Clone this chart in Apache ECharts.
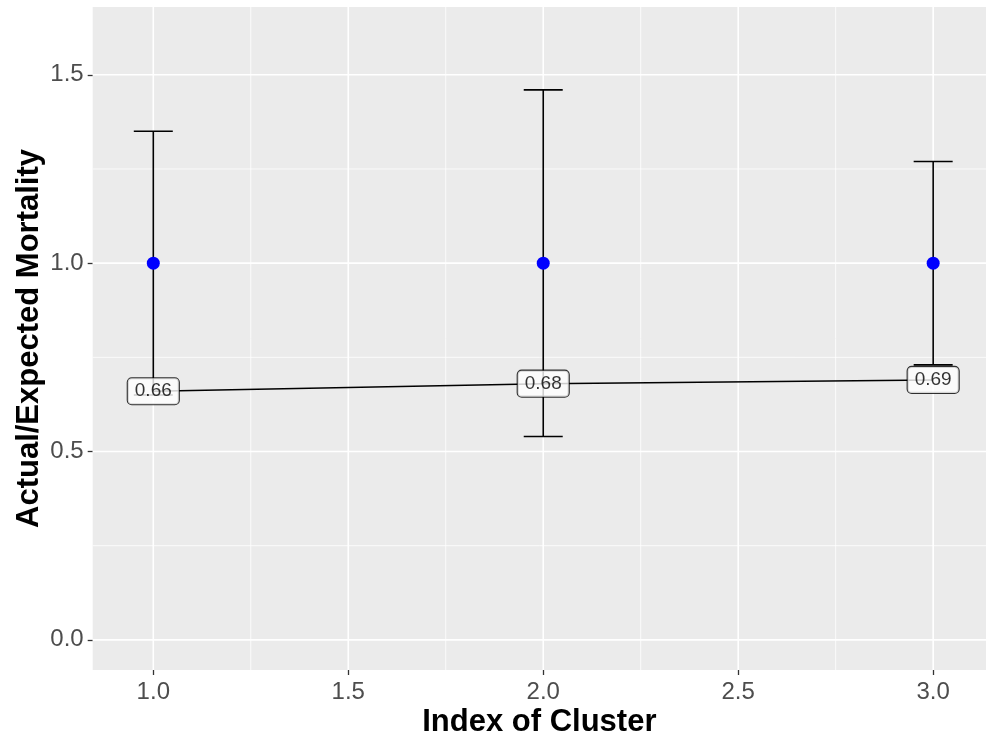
<!DOCTYPE html>
<html>
<head>
<meta charset="utf-8">
<script src="https://cdn.jsdelivr.net/npm/echarts@6/dist/echarts.min.js"></script>
<style>
  html, body { margin: 0; padding: 0; background: #ffffff; }
  #chart { width: 986px; height: 736px; }
</style>
</head>
<body>
<div id="chart"></div>
<script>
// ---- data ----
const clusters = [1, 2, 3];
const pointValues = [1.0, 1.0, 1.0];
const upperValues = [1.35, 1.46, 1.27];
const lowerValues = [0.65, 0.54, 0.73];
const lineValues = [0.66, 0.68, 0.69];
const xTicks = [1.0, 1.5, 2.0, 2.5, 3.0];
const yTicks = [0.0, 0.5, 1.0, 1.5];
const xMinorTicks = [1.25, 1.75, 2.25, 2.75];
const yMinorTicks = [0.25, 0.75, 1.25];
const xTitle = 'Index of Cluster';
const yTitle = 'Actual/Expected Mortality';

// ---- chart ----
const FONT = "'Liberation Sans', Arial, Helvetica, sans-serif";
const chart = echarts.init(document.getElementById('chart'), null, { renderer: 'canvas' });

function gridSeries(values, vertical, width) {
  return {
    type: 'custom',
    silent: true,
    z: 1,
    clip: true,
    data: values.map(v => vertical ? [v, 1] : [1, v]),
    encode: { x: 0, y: 1 },
    renderItem: function (params, api) {
      const cs = params.coordSys;
      const p = api.coord([api.value(0), api.value(1)]);
      const shape = vertical
        ? { x1: p[0], y1: cs.y, x2: p[0], y2: cs.y + cs.height }
        : { x1: cs.x, y1: p[1], x2: cs.x + cs.width, y2: p[1] };
      return { type: 'line', shape: shape, style: { stroke: '#FFFFFF', lineWidth: width } };
    }
  };
}

const capHalf = 0.05;

const option = {
  animation: false,
  backgroundColor: '#FFFFFF',
  grid: {
    left: 92.7, right: 0, top: 7, bottom: 66,
    show: true, backgroundColor: '#EBEBEB', borderWidth: 0,
    containLabel: false,
    outerBoundsMode: 'none'
  },
  xAxis: {
    type: 'value',
    min: 0.8446, max: 3.1355,
    splitLine: { show: false },
    axisLine: { show: false, onZero: false },
    axisTick: { show: true, length: 5, customValues: xTicks, lineStyle: { color: '#333333', width: 1.3 } },
    axisLabel: {
      customValues: xTicks, color: '#4D4D4D', fontSize: 24, fontFamily: FONT, margin: 10,
      formatter: v => Number(v).toFixed(1)
    },
    name: xTitle, nameLocation: 'middle', nameGap: 37, nameMoveOverlap: false,
    nameTextStyle: { color: '#000000', fontSize: 31, fontWeight: 'bold', fontFamily: FONT }
  },
  yAxis: {
    type: 'value',
    min: -0.08, max: 1.68,
    splitLine: { show: false },
    axisLine: { show: false, onZero: false },
    axisTick: { show: true, length: 5, customValues: yTicks, lineStyle: { color: '#333333', width: 1.3 } },
    axisLabel: {
      customValues: yTicks, color: '#4D4D4D', fontSize: 24, fontFamily: FONT, margin: 9,
      formatter: v => Number(v).toFixed(1)
    },
    name: yTitle, nameLocation: 'middle', nameGap: 48, nameRotate: 90, nameMoveOverlap: false,
    nameTextStyle: { color: '#000000', fontSize: 31, fontWeight: 'bold', fontFamily: FONT }
  },
  series: [
    gridSeries(xMinorTicks, true, 0.8),
    gridSeries(yMinorTicks, false, 0.8),
    gridSeries(xTicks, true, 1.6),
    gridSeries(yTicks, false, 1.6),
    {
      type: 'custom',
      z: 2,
      data: clusters.map((c, i) => [c, lowerValues[i], upperValues[i]]),
      encode: { x: 0, y: [1, 2] },
      renderItem: function (params, api) {
        const x = api.value(0), lo = api.value(1), hi = api.value(2);
        const pTop = api.coord([x, hi]);
        const pBot = api.coord([x, lo]);
        const tl = api.coord([x - capHalf, hi]);
        const tr = api.coord([x + capHalf, hi]);
        const bl = api.coord([x - capHalf, lo]);
        const br = api.coord([x + capHalf, lo]);
        const st = { stroke: '#000000', lineWidth: 1.6 };
        return {
          type: 'group',
          children: [
            { type: 'line', shape: { x1: pTop[0], y1: pTop[1], x2: pBot[0], y2: pBot[1] }, style: st },
            { type: 'line', shape: { x1: tl[0], y1: tl[1], x2: tr[0], y2: tr[1] }, style: st },
            { type: 'line', shape: { x1: bl[0], y1: bl[1], x2: br[0], y2: br[1] }, style: st }
          ]
        };
      }
    },
    {
      type: 'line',
      z: 3,
      data: clusters.map((c, i) => [c, lineValues[i]]),
      showSymbol: false,
      symbol: 'none',
      lineStyle: { color: '#000000', width: 1.6 },
      silent: true
    },
    {
      type: 'scatter',
      z: 4,
      data: clusters.map((c, i) => [c, pointValues[i]]),
      symbol: 'circle',
      symbolSize: 13,
      itemStyle: { color: '#0000FF', opacity: 1 },
      silent: true
    },
    {
      type: 'scatter',
      z: 5,
      data: clusters.map((c, i) => [c, lineValues[i]]),
      symbol: 'circle',
      symbolSize: 1,
      itemStyle: { color: 'rgba(0,0,0,0)' },
      silent: true,
      label: {
        show: true,
        position: 'inside',
        formatter: p => p.value[1].toFixed(2),
        color: '#000000',
        fontSize: 19,
        fontFamily: FONT,
        backgroundColor: '#FFFFFF',
        borderColor: '#000000',
        borderWidth: 1.1,
        borderRadius: 4,
        padding: [4, 7, 3, 7]
      }
    }
  ]
};
chart.setOption(option);
</script>
</body>
</html>
